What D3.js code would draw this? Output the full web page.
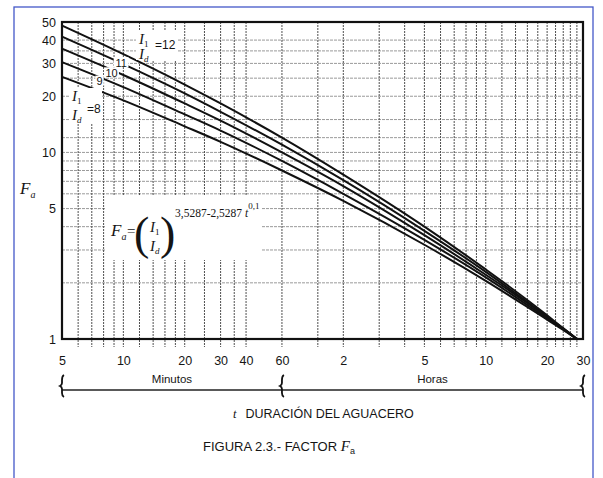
<!DOCTYPE html>
<html lang="es">
<head>
    <meta charset="UTF-8">
    <title>Factor Fa</title>
    <script src="https://d3js.org/d3.v7.min.js"></script>
    <style>
        body { margin: 0; background: #fff; }
        text { font-family: "Liberation Sans", Arial, sans-serif; fill: #151515; }
        .serif { font-family: "Liberation Serif", "Times New Roman", serif; }
        .curve { fill: none; stroke: #111; stroke-width: 2px; }
    </style>
</head>
<body>
<svg width="603" height="478">
    <g id="frame"></g>
    <g id="grid"></g>
    <g id="curves"></g>
    <g id="labels"></g>
    <g id="axes"></g>
</svg>
<script>
// durations in minutes
const durations = [5, 10, 20, 30, 60, 120, 300, 600, 1200, 1440, 1680];
// Fa read for each I1/Id ratio
const ratios = [8, 9, 10, 11, 12];
const fa8  = [25.4, 19.0, 13.8, 11.4, 8.0, 5.5, 3.2, 2.05, 1.27, 1.12, 1];
const fa9  = [30.5, 22.4, 16.0, 13.1, 9.0, 6.0, 3.4, 2.14, 1.29, 1.13, 1];
const fa10 = [36.0, 26.0, 18.3, 14.8, 10.0, 6.6, 3.6, 2.21, 1.31, 1.13, 1];
const fa11 = [41.7, 29.7, 20.7, 16.5, 11.0, 7.1, 3.8, 2.29, 1.32, 1.14, 1];
const fa12 = [47.8, 33.6, 23.1, 18.3, 12.0, 7.6, 4.0, 2.36, 1.34, 1.14, 1];

const yTicks = [1, 5, 10, 20, 30, 40, 50];
const xTicks = [5, 10, 20, 30, 40, 60, 120, 300, 600, 1200, 1800];
const xTickLabels = ["5", "10", "20", "30", "40", "60", "2", "5", "10", "20", "30"];
const vGrid = [6, 7, 8, 9, 10, 12, 14, 16, 18, 20, 25, 30, 35, 40, 60,
               90, 120, 180, 240, 300, 360, 420, 480, 540, 600, 720, 840, 960, 1080, 1200, 1320, 1440, 1560, 1680];
const hGrid = [2, 3, 4, 5, 6, 7, 8, 9, 10, 12, 15, 20, 25, 30, 35, 40];
const curveTags = [{t: 7.64, v: 24.1, txt: "9"}, {t: 8.75, v: 26.7, txt: "10"}, {t: 9.75, v: 30.3, txt: "11"}];

const svg = d3.select("svg");
const pLeft = 62, pRight = 583, pTop = 22, pBottom = 339;

const x = d3.scaleLog().domain([5, 1800]).range([pLeft, pRight]);
const y = d3.scaleLog().domain([1, 50]).range([pBottom, pTop]);

// blue page frame
d3.select("#frame").append("rect")
    .attr("x", 14).attr("y", 7).attr("width", 579).attr("height", 500)
    .attr("fill", "none").attr("stroke", "#4458c8").attr("stroke-width", 1.3);

const grid = d3.select("#grid");
grid.selectAll("line.h").data(hGrid).join("line")
    .attr("class", "h")
    .attr("x1", pLeft).attr("x2", pRight)
    .attr("y1", d => y(d)).attr("y2", d => y(d))
    .attr("stroke", "#9a9a9a").attr("stroke-width", 1)
    .attr("stroke-dasharray", "3,1");
grid.selectAll("line.v").data(vGrid).join("line")
    .attr("class", "v")
    .attr("x1", d => x(d)).attr("x2", d => x(d))
    .attr("y1", pTop).attr("y2", pBottom + 8)
    .attr("stroke", "#505050").attr("stroke-width", 1)
    .attr("stroke-dasharray", "2,1");

// white area behind the formula
grid.append("rect").attr("x", 106).attr("y", 196).attr("width", 156).attr("height", 64).attr("fill", "#fff");

// curves
const series = [fa8, fa9, fa10, fa11, fa12];
const line = d3.line()
    .x(d => x(d[0]))
    .y(d => y(d[1]))
    .curve(d3.curveMonotoneX);
d3.select("#curves").selectAll("path").data(series).join("path")
    .attr("class", "curve")
    .attr("d", s => line(durations.map((t, i) => [t, s[i]])));

const lab = d3.select("#labels");
curveTags.forEach(c => {
    lab.append("rect").attr("x", x(c.t) - (c.txt.length * 3.2 + 1)).attr("y", y(c.v) - 5.5)
        .attr("width", c.txt.length * 6.4 + 2).attr("height", 10).attr("fill", "#fff");
    lab.append("text").attr("x", x(c.t)).attr("y", y(c.v) + 4)
        .attr("text-anchor", "middle").attr("font-size", 11).text(c.txt);
});

// I1/Id = 12
lab.append("rect").attr("x", 136).attr("y", 30).attr("width", 42).attr("height", 30).attr("fill", "#fff");
function ratioLabel(px, py1, py2, eqx, eqy, txt) {
    const t1 = lab.append("text").attr("class", "serif").attr("x", px).attr("y", py1)
        .attr("font-size", 15).attr("font-style", "italic").text("I");
    t1.append("tspan").attr("dy", 3).attr("font-size", 9).attr("font-style", "normal").text("1");
    const t2 = lab.append("text").attr("class", "serif").attr("x", px).attr("y", py2)
        .attr("font-size", 15).attr("font-style", "italic").text("I");
    t2.append("tspan").attr("dy", 3).attr("font-size", 9).text("d");
    lab.append("text").attr("x", eqx).attr("y", eqy).attr("font-size", 12).text(txt);
}
ratioLabel(139, 44, 59, 155, 49, "=12");
lab.append("rect").attr("x", 70).attr("y", 88).attr("width", 32).attr("height", 36).attr("fill", "#fff");
ratioLabel(72, 101, 120, 87, 113, "=8");

// formula
const fx = lab.append("text").attr("class", "serif").attr("x", 111).attr("y", 236)
    .attr("font-size", 17).attr("font-style", "italic").text("F");
fx.append("tspan").attr("dy", 4).attr("font-size", 10).text("a");
lab.append("text").attr("class", "serif").attr("x", 127).attr("y", 236).attr("font-size", 15).text("=");
lab.append("text").attr("class", "serif").attr("x", 134).attr("y", 249).attr("font-size", 46).text("(");
lab.append("text").attr("class", "serif").attr("x", 160).attr("y", 249).attr("font-size", 46).text(")");
const fi1 = lab.append("text").attr("class", "serif").attr("x", 150).attr("y", 232)
    .attr("font-size", 15).attr("font-style", "italic").text("I");
fi1.append("tspan").attr("dy", 3).attr("font-size", 9).attr("font-style", "normal").text("1");
const fi2 = lab.append("text").attr("class", "serif").attr("x", 150).attr("y", 251)
    .attr("font-size", 15).attr("font-style", "italic").text("I");
fi2.append("tspan").attr("dy", 3).attr("font-size", 9).text("d");
const ex = lab.append("text").attr("class", "serif").attr("x", 175).attr("y", 217)
    .attr("font-size", 11.5).text("3,5287-2,5287 ");
ex.append("tspan").attr("font-style", "italic").text("t");
ex.append("tspan").attr("dy", -8).attr("font-size", 9).text("0,1");

// axes
const axes = d3.select("#axes");
axes.append("rect").attr("x", pLeft).attr("y", pTop).attr("width", pRight - pLeft).attr("height", pBottom - pTop)
    .attr("fill", "none").attr("stroke", "#111").attr("stroke-width", 2.2);

const yAxis = axes.append("g").attr("transform", `translate(${pLeft},0)`)
    .call(d3.axisLeft(y).tickValues(yTicks).tickFormat(d3.format("d")).tickSize(0).tickPadding(6));
const xAxis = axes.append("g").attr("transform", `translate(0,${pBottom})`)
    .call(d3.axisBottom(x).tickValues(xTicks).tickFormat((d, i) => xTickLabels[i]).tickSize(0).tickPadding(17));
[yAxis, xAxis].forEach(a => {
    a.select(".domain").remove();
    a.selectAll("text").attr("font-size", 12.5).attr("font-family", "Liberation Sans, Arial, sans-serif").attr("fill", "#151515");
});

// Fa label
const fa = axes.append("text").attr("class", "serif").attr("x", 20).attr("y", 194)
    .attr("font-size", 17).attr("font-style", "italic").text("F");
fa.append("tspan").attr("dy", 4).attr("font-size", 10).text("a");

// Minutos / Horas brace line
const braceY = 390;
axes.append("line").attr("x1", x(5)).attr("x2", x(1800)).attr("y1", braceY).attr("y2", braceY)
    .attr("stroke", "#222").attr("stroke-width", 1.5);
[5, 60, 1800].forEach(d => {
    const bx = x(d);
    axes.append("path")
        .attr("d", `M${bx + 2},375 Q${bx},376 ${bx},380 L${bx},383 Q${bx},385 ${bx - 2},386 Q${bx},387 ${bx},389 L${bx},393 Q${bx},396 ${bx + 2},397`)
        .attr("fill", "none").attr("stroke", "#111").attr("stroke-width", 1.8);
});
axes.append("text").attr("x", (x(5) + x(60)) / 2).attr("y", 383).attr("text-anchor", "middle")
    .attr("font-size", 11.5).text("Minutos");
axes.append("text").attr("x", (x(60) + x(1800)) / 2).attr("y", 383).attr("text-anchor", "middle")
    .attr("font-size", 11.5).text("Horas");

const tl = axes.append("text").attr("x", 233).attr("y", 418).attr("font-size", 12.5);
tl.append("tspan").attr("class", "serif").attr("font-style", "italic").attr("font-family", "Liberation Serif, serif").text("t");
tl.append("tspan").attr("dx", 9).text("DURACIÓN DEL AGUACERO");

const cap = axes.append("text").attr("x", 203).attr("y", 451).attr("font-size", 13).text("FIGURA 2.3.- FACTOR ");
cap.append("tspan").attr("font-family", "Liberation Serif, serif").attr("font-style", "italic").attr("font-size", 15).text("F");
cap.append("tspan").attr("dy", 3).attr("font-size", 9).text("a");
</script>
</body>
</html>
